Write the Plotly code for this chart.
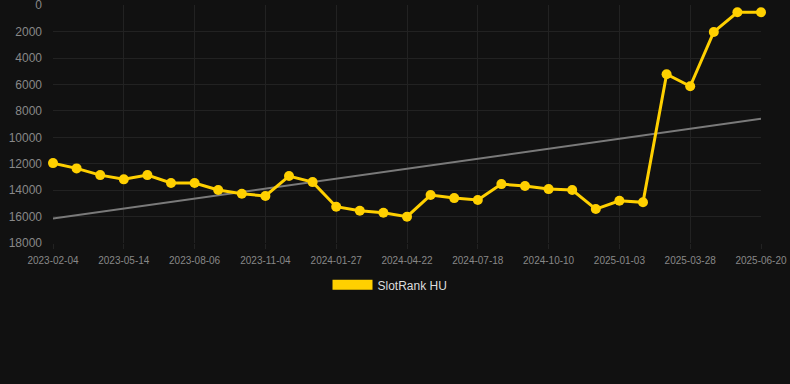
import plotly.graph_objects as go

dates = [
    "2023-02-04", "2023-03-08", "2023-04-10", "2023-05-14", "2023-06-11", "2023-07-09",
    "2023-08-06", "2023-09-05", "2023-10-05", "2023-11-04", "2023-12-02", "2023-12-30",
    "2024-01-27", "2024-02-24", "2024-03-24", "2024-04-22", "2024-05-20", "2024-06-19",
    "2024-07-18", "2024-08-15", "2024-09-12", "2024-10-10", "2024-11-07", "2024-12-06",
    "2025-01-03", "2025-01-31", "2025-02-28", "2025-03-28", "2025-04-25", "2025-05-23",
    "2025-06-20",
]
rank = [
    11950, 12350, 12860, 13180, 12860, 13460,
    13460, 13990, 14270, 14440, 12930, 13390,
    15250, 15560, 15710, 16010, 14370, 14600,
    14750, 13540, 13690, 13920, 13990, 15430,
    14800, 14920, 5220, 6130, 2020, 530,
    530,
]
trend_dates = [dates[0], dates[-1]]
trend_values = [16150, 8600]
tick_labels = dates[::3]
y_ticks = [0, 2000, 4000, 6000, 8000, 10000, 12000, 14000, 16000, 18000]

fig = go.Figure()
fig.add_trace(go.Scatter(
    x=trend_dates, y=trend_values, mode="lines",
    line=dict(color="#7a7a7a", width=2), showlegend=False, hoverinfo="skip",
))
fig.add_trace(go.Scatter(
    x=dates, y=rank, mode="lines+markers", name="SlotRank HU",
    line=dict(color="#FFD000", width=3),
    marker=dict(color="#FFD000", size=10),
    cliponaxis=False, showlegend=False,
))
fig.add_trace(go.Scatter(
    x=[None], y=[None], mode="lines", name="SlotRank HU",
    line=dict(color="#FFD000", width=11), showlegend=True,
))

fig.update_layout(
    width=790, height=384,
    paper_bgcolor="#111111", plot_bgcolor="#111111",
    margin=dict(l=53, r=29, t=5, b=141),
    font=dict(family="Arial, Liberation Sans, sans-serif", color="#888888"),
    showlegend=True,
    legend=dict(
        orientation="h", x=0.476, xanchor="center", y=-0.115, yanchor="top",
        font=dict(size=12, color="#dddddd"), itemwidth=40,
        bgcolor="rgba(0,0,0,0)",
    ),
    xaxis=dict(
        type="category", categoryorder="array", categoryarray=dates,
        range=[0, 30], tickmode="array", tickvals=tick_labels, ticktext=tick_labels,
        showgrid=True, gridcolor="#222222", gridwidth=1,
        ticks="outside", ticklen=5, tickcolor="#222222",
        tickfont=dict(size=10, color="#888888"), ticklabelstandoff=3,
        zeroline=False, showline=False, ticklabeloverflow="allow", automargin=False,
    ),
    yaxis=dict(
        range=[18000, -20], tickmode="array", tickvals=y_ticks,
        ticktext=[str(v) for v in y_ticks],
        showgrid=True, gridcolor="#222222", gridwidth=1,
        tickfont=dict(size=12, color="#888888"),
        zeroline=False, showline=False, ticks="", ticklabelstandoff=10,
        ticklabeloverflow="allow", automargin=False,
    ),
)

fig.write_html(
    "out.html",
    config={"displayModeBar": False},
    post_script="document.body.style.margin='0';document.body.style.background='#111111';",
)
